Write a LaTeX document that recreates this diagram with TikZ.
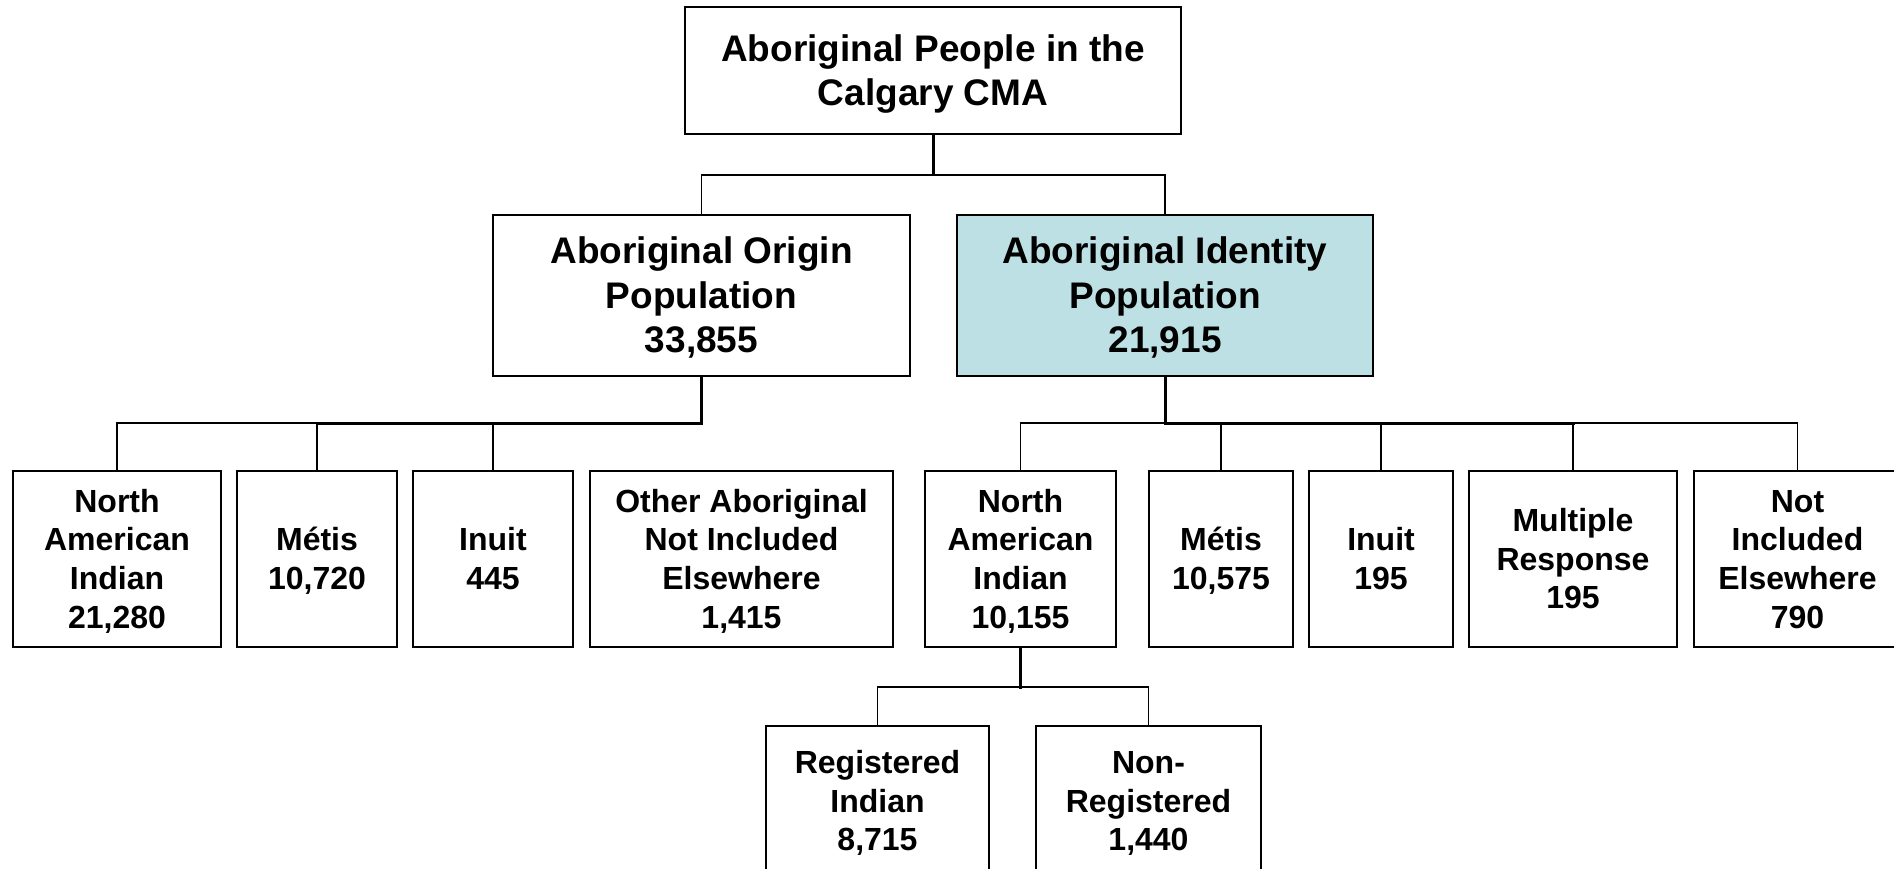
\documentclass[tikz,border=0pt]{standalone}
\usepackage{fontspec}
\setmainfont{Liberation Sans}
% Arial-like line extents: ascent 0.905em on the first line, descent 0.212em on the last
\newcommand{\fs}{\rule{0pt}{0.905em}}
\newcommand{\ls}{\rule[-0.212em]{0pt}{0.212em}}
\begin{document}
\begin{tikzpicture}[x=1pt,y=-1pt,
  box/.style={draw=black, line width=1.6pt, fill=white, inner sep=0pt, align=center,
    font=\fontsize{32}{38.7}\selectfont\bfseries},
  big/.style={font=\fontsize{37}{44.5}\selectfont\bfseries},
  conn/.style={line width=1.6pt, draw=black},
  trunk/.style={line width=3pt, draw=black, line cap=rect}]
\definecolor{idblue}{RGB}{189,224,228}
\clip (0,0) rectangle (1894,869);
\fill[white] (0,0) rectangle (1894,869);
% level 0
\node[box, big, minimum width=496pt, minimum height=127pt] (top) at (933,70.5) {\fs Aboriginal People in the\\Calgary CMA\ls};
% level 1
\node[box, big, minimum width=417pt, minimum height=161pt] (orig) at (701.5,295.5) {\fs Aboriginal Origin\\Population\\33,855\ls};
\node[box, big, fill=idblue, minimum width=416pt, minimum height=161pt] (ident) at (1165,295.5) {\fs Aboriginal Identity\\Population\\21,915\ls};
% level 2 left
\node[box, minimum width=208pt, minimum height=176pt] (nai1) at (117,559) {\fs North\\American\\Indian\\21,280\ls};
\node[box, minimum width=160pt, minimum height=176pt] (met1) at (317,559) {\fs Métis\\10,720\ls};
\node[box, minimum width=160pt, minimum height=176pt] (inu1) at (493,559) {\fs Inuit\\445\ls};
\node[box, minimum width=303pt, minimum height=176pt] (oth) at (741.5,559) {\fs Other Aboriginal\\Not Included\\Elsewhere\\1,415\ls};
% level 2 right
\node[box, minimum width=191pt, minimum height=176pt] (nai2) at (1020.5,559) {\fs North\\American\\Indian\\10,155\ls};
\node[box, minimum width=144pt, minimum height=176pt] (met2) at (1221,559) {\fs Métis\\10,575\ls};
\node[box, minimum width=144pt, minimum height=176pt] (inu2) at (1381,559) {\fs Inuit\\195\ls};
\node[box, minimum width=208pt, minimum height=176pt] (mul) at (1573,559) {\fs Multiple\\Response\\195\ls};
\node[box, minimum width=207pt, minimum height=176pt] (nie) at (1797.5,559) {\fs Not\\Included\\Elsewhere\\790\ls};
% level 3
\node[box, minimum width=223pt, minimum height=150pt] (reg) at (877.5,801) {\fs Registered\\Indian\\8,715\ls};
\node[box, minimum width=225pt, minimum height=150pt] (non) at (1148.5,801) {\fs Non-\\Registered\\1,440\ls};
% junctions
\coordinate (jT) at (933,175);
\coordinate (jL) at (701.5,423);
\coordinate (jR) at (1165,423);
\coordinate (jB) at (1020.5,687);
% connectors
\draw[conn] (top.south) -- (jT) -| (orig.north);
\draw[conn] (top.south) -- (jT) -| (ident.north);
\draw[conn] (orig.south) -- (jL) -| (nai1.north);
\draw[conn] (orig.south) -- (jL) -| (met1.north);
\draw[conn] (orig.south) -- (jL) -| (inu1.north);
\draw[conn] (ident.south) -- (jR) -| (nai2.north);
\draw[conn] (ident.south) -- (jR) -| (met2.north);
\draw[conn] (ident.south) -- (jR) -| (inu2.north);
\draw[conn] (ident.south) -- (jR) -| (mul.north);
\draw[conn] (ident.south) -- (jR) -| (nie.north);
\draw[conn] (nai2.south) -- (jB) -| (reg.north);
\draw[conn] (nai2.south) -- (jB) -| (non.north);
% heavier trunks
\draw[trunk] (top.south) -- (jT);
\draw[trunk] (orig.south) -- (jL) -- (jL -| met1.north);
\draw[trunk] (ident.south) -- (jR) -- (jR -| mul.north);
\draw[trunk] (nai2.south) -- (jB);
\end{tikzpicture}
\end{document}
